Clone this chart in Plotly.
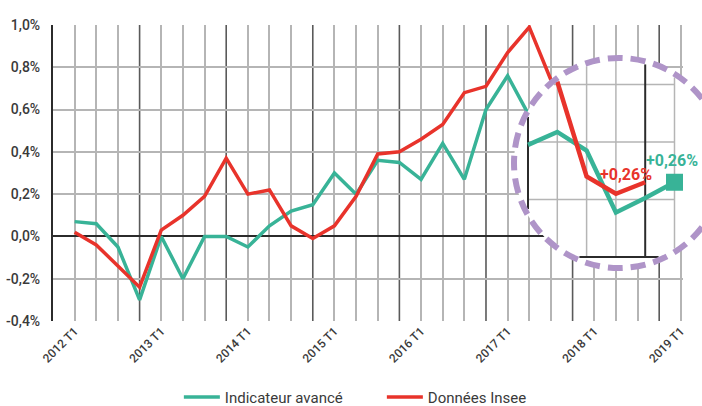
import math
import plotly.graph_objects as go

# Variations trimestrielles (en %). Index 0 = 2012 T1
tick_labels = ["2012 T1", "2013 T1", "2014 T1", "2015 T1",
               "2016 T1", "2017 T1", "2018 T1", "2019 T1"]
green_main = [0.07, 0.06, -0.05, -0.30, 0.00, -0.20, 0.00, 0.00, -0.05, 0.05, 0.12,
              0.15, 0.30, 0.20, 0.36, 0.35, 0.27, 0.44, 0.27, 0.60, 0.76, 0.57]
red_main = [0.02, -0.04, -0.14, -0.24, 0.03, 0.10, 0.19, 0.37, 0.20, 0.22, 0.05,
            -0.01, 0.05, 0.19, 0.39, 0.40, 0.46, 0.53, 0.68, 0.71, 0.87, 0.99, 0.74]
# partie agrandie dans la loupe
green_zoom_start = 23
green_zoom = [0.39, 0.435, 0.37, 0.155, 0.205, 0.26]
red_zoom_start = 24
red_zoom = [0.61, 0.28, 0.22, 0.26]

GREEN = "#38b397"
RED = "#e8332b"
GRID = "#b5b5b5"
GRID_DARK = "#5a5a5a"
LOUPE = "#af94c8"
TXT = "#3a3a3a"
FONT = "Roboto"

W, H = 702, 406
ML, MR, MT, MB = 53, 19, 25, 85
X_RANGE = [-1, 28.1]
Y_RANGE = [-0.4, 1.0]
plot_w = W - ML - MR
plot_h = H - MT - MB

# loupe : cercle (pixels) et échelle agrandie
CX, CY, R = 619, 163, 105
Z_I0, Z_PX0, Z_SX = 23, 528, 29.3     # index 23 à x=528, 29.3 px par trimestre
Z_PY0, Z_SY = 257, 287.5              # 0 % à y=257, 287.5 px par point de %


def zx(px):
    return Z_I0 + (px - Z_PX0) / Z_SX


def zy(py):
    return (Z_PY0 - py) / Z_SY


fig = go.Figure()

fig.add_trace(go.Scatter(x=list(range(len(green_main))), y=green_main, mode="lines",
                         name="Indicateur avancé", line=dict(color=GREEN, width=3.5)))
fig.add_trace(go.Scatter(x=list(range(len(red_main))), y=red_main, mode="lines",
                         name="Données Insee", line=dict(color=RED, width=3.5)))

# fond blanc de la loupe
circ_x, circ_y = [], []
for a in range(0, 361, 3):
    t = math.radians(a)
    circ_x.append(zx(CX + R * math.cos(t)))
    circ_y.append(zy(CY + R * math.sin(t)))
fig.add_trace(go.Scatter(x=circ_x, y=circ_y, xaxis="x2", yaxis="y2", mode="lines",
                         fill="toself", fillcolor="white", line=dict(width=0),
                         showlegend=False, hoverinfo="skip"))

# quadrillage agrandi, coupé par le cercle
rx0, rx1 = Z_PX0, Z_PX0 + 5 * Z_SX
ry0, ry1 = Z_PY0 - 0.8 * Z_SY, Z_PY0
rr = R - 3
light = ([], [])
dark = ([], [])
for k in range(6):
    px = Z_PX0 + k * Z_SX
    d = rr ** 2 - (px - CX) ** 2
    if d <= 0:
        continue
    d = math.sqrt(d)
    a, b = max(ry0, CY - d), min(ry1, CY + d)
    if a < b:
        tgt = dark if (Z_I0 + k) % 4 == 3 else light
        tgt[0].extend([zx(px), zx(px), None])
        tgt[1].extend([zy(a), zy(b), None])
for k in range(4):
    py = Z_PY0 - k * 0.2 * Z_SY
    d = rr ** 2 - (py - CY) ** 2
    if d <= 0:
        continue
    d = math.sqrt(d)
    a, b = max(rx0, CX - d), min(rx1, CX + d)
    if a < b:
        tgt = dark if k == 0 else light
        tgt[0].extend([zx(a), zx(b), None])
        tgt[1].extend([zy(py), zy(py), None])
fig.add_trace(go.Scatter(x=light[0], y=light[1], xaxis="x2", yaxis="y2", mode="lines",
                         line=dict(color=GRID, width=1.5), showlegend=False, hoverinfo="skip"))
fig.add_trace(go.Scatter(x=dark[0], y=dark[1], xaxis="x2", yaxis="y2", mode="lines",
                         line=dict(color="#2b2b2b", width=2), showlegend=False, hoverinfo="skip"))

gz_x = list(range(green_zoom_start, green_zoom_start + len(green_zoom)))
rz_x = list(range(red_zoom_start, red_zoom_start + len(red_zoom)))
fig.add_trace(go.Scatter(x=gz_x, y=green_zoom, xaxis="x2", yaxis="y2", mode="lines",
                         line=dict(color=GREEN, width=4.5), showlegend=False))
fig.add_trace(go.Scatter(x=rz_x, y=red_zoom, xaxis="x2", yaxis="y2", mode="lines",
                         line=dict(color=RED, width=4.5), showlegend=False))
fig.add_trace(go.Scatter(x=[gz_x[-1]], y=[green_zoom[-1]], xaxis="x2", yaxis="y2",
                         mode="markers", cliponaxis=False,
                         marker=dict(symbol="square", size=17, color=GREEN),
                         showlegend=False))

# lignes verticales foncées (T4), sous le reste
for i in range(3, 28, 4):
    fig.add_shape(type="line", xref="x", yref="paper", x0=i, x1=i, y0=0, y1=1,
                  line=dict(color=GRID_DARK, width=1.6), layer="below")

# cercle pointillé
fig.add_shape(type="circle", xref="paper", yref="paper",
              x0=(CX - R - ML) / plot_w, x1=(CX + R - ML) / plot_w,
              y0=(MT + plot_h - (CY + R)) / plot_h, y1=(MT + plot_h - (CY - R)) / plot_h,
              line=dict(color=LOUPE, width=6, dash="15px,8px"), layer="above")

fig.add_annotation(x=rz_x[-1], y=red_zoom[-1], xref="x2", yref="y2", text="+0,26%",
                   showarrow=False, xanchor="right", yanchor="middle", xshift=9, yshift=8,
                   font=dict(family=FONT, size=16, color=RED, weight="bold"))
fig.add_annotation(x=gz_x[-1], y=green_zoom[-1], xref="x2", yref="y2", text="+0,26%",
                   showarrow=False, xanchor="center", yanchor="middle", xshift=-3, yshift=22,
                   font=dict(family=FONT, size=16, color=GREEN, weight="bold"))

y_vals = [-0.4, -0.2, 0.0, 0.2, 0.4, 0.6, 0.8, 1.0]
y_text = ["-0,4%", "-0,2%", "0,0%", "0,2%", "0,4%", "0,6%", "0,8%", "1,0%"]
# quadrillage clair sur tous les trimestres sauf les T4 (lignes foncées)
x_vals = [i for i in range(0, 29) if i % 4 != 3]
x_text = [tick_labels[i // 4] if i % 4 == 0 else "" for i in x_vals]

fig.update_layout(
    width=W, height=H,
    margin=dict(l=ML, r=MR, t=MT, b=MB, autoexpand=False),
    paper_bgcolor="white", plot_bgcolor="white",
    font=dict(family=FONT, color=TXT),
    xaxis=dict(range=X_RANGE, tickmode="array", tickvals=x_vals, ticktext=x_text,
               tickangle=-45, showgrid=True, gridcolor=GRID, gridwidth=1.5,
               zeroline=False, showline=False, ticks="", automargin=False,
               tickfont=dict(size=12, color=TXT, weight=500)),
    yaxis=dict(range=Y_RANGE, tickmode="array", tickvals=y_vals, ticktext=y_text,
               showgrid=True, gridcolor=GRID, gridwidth=1.5,
               zeroline=True, zerolinecolor="#2b2b2b", zerolinewidth=2,
               showline=True, linecolor="#2b2b2b", linewidth=2, ticks="",
               ticklabelstandoff=8, automargin=False,
               tickfont=dict(size=14, color=TXT, weight=500)),
    xaxis2=dict(overlaying="x", range=[zx(ML), zx(ML + plot_w)], visible=False),
    yaxis2=dict(overlaying="y", range=[zy(MT + plot_h), zy(MT)], visible=False),
    legend=dict(orientation="h", x=0.522, xanchor="center", y=-0.258, yanchor="middle",
                font=dict(size=15, color=TXT), itemwidth=36, entrywidth=152),
    showlegend=True,
)

# la page sans marge, pour que le graphique occupe toute la fenêtre
fig.write_html("out.html", config={"displayModeBar": False},
               post_script="document.body.style.margin='0';")
